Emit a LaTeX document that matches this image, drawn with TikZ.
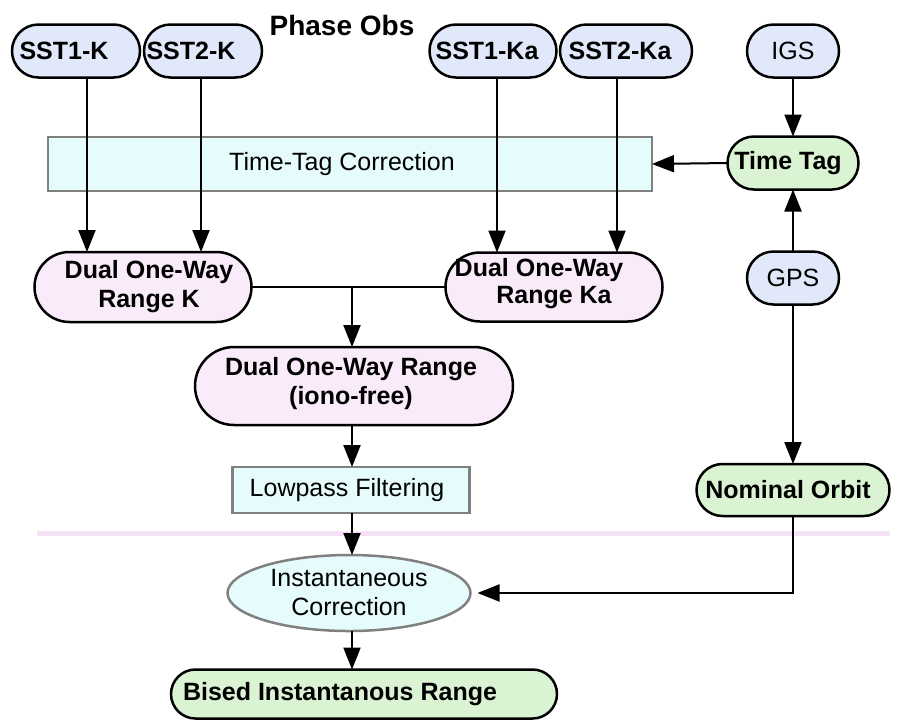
\documentclass[tikz,border=0pt]{standalone}
\usepackage{fontspec}
\setmainfont{Liberation Sans}
\usetikzlibrary{shapes.misc,shapes.geometric,arrows.meta}

\definecolor{blueF}{RGB}{224,232,250}
\definecolor{pinkF}{RGB}{249,235,250}
\definecolor{greenF}{RGB}{218,243,210}
\definecolor{cyanF}{RGB}{230,252,252}
\definecolor{grayB}{RGB}{128,128,128}
\definecolor{sepC}{RGB}{246,226,246}

\begin{document}
\begin{tikzpicture}[x=1pt,y=-1pt,
  base/.style={inner sep=0pt, outer sep=0pt, line width=2.5pt,
    font=\fontsize{25}{29}\selectfont, align=center},
  pill/.style={base, rounded rectangle, draw=black},
  bluepill/.style={pill, fill=blueF},
  pinkpill/.style={pill, fill=pinkF},
  greenpill/.style={pill, fill=greenF},
  procbox/.style={base, rectangle, draw=grayB, fill=cyanF},
  procoval/.style={base, ellipse, draw=grayB, fill=cyanF},
  lbl/.style={font=\fontsize{25}{29}\selectfont\bfseries, align=center, inner sep=0pt},
  rlbl/.style={font=\fontsize{25}{29}\selectfont, align=center, inner sep=0pt},
  link/.style={line width=2pt},
  arr/.style={line width=2pt, -{Triangle[length=22pt,width=17pt]}}]

\useasboundingbox (0,0) rectangle (901,721);

% title
\node[lbl, font=\fontsize{28}{32}\selectfont\bfseries] (title) at (342,25) {Phase Obs};

% phase observations
\node[bluepill, minimum width=128pt, minimum height=53pt,
  label={[lbl,xshift=-12pt]center:SST1-K}] (s1k) at (76,51) {};
\node[bluepill, minimum width=118pt, minimum height=53pt,
  label={[lbl,xshift=-12pt]center:SST2-K}] (s2k) at (203,51) {};
\node[bluepill, minimum width=127pt, minimum height=53pt,
  label={[lbl,xshift=-6pt]center:SST1-Ka}] (s1ka) at (493,51) {};
\node[bluepill, minimum width=132pt, minimum height=53pt,
  label={[lbl,xshift=-6pt]center:SST2-Ka}] (s2ka) at (626,51) {};
\node[bluepill, minimum width=92pt, minimum height=53pt,
  label={[rlbl]center:IGS}] (igs) at (793,51) {};

% time tagging
\node[procbox, minimum width=604pt, minimum height=54pt,
  label={[rlbl,xshift=-8pt]center:Time-Tag Correction}] (ttc) at (350,164) {};
\node[greenpill, minimum width=131pt, minimum height=53pt,
  label={[lbl,xshift=-5pt]center:Time Tag}] (tt) at (793,163) {};

% ranges
\node[pinkpill, minimum width=217pt, minimum height=70pt,
  label={[lbl,xshift=6pt]center:{Dual One-Way\\Range K}}] (dk) at (143,287) {};
\node[pinkpill, minimum width=217pt, minimum height=69pt,
  label={[lbl,xshift=-15pt,yshift=17pt]center:Dual One-Way},
  label={[lbl,yshift=-11pt]center:Range Ka}] (dka) at (554,287) {};
\node[bluepill, minimum width=92pt, minimum height=53pt,
  label={[rlbl]center:GPS}] (gps) at (793,278) {};
\node[pinkpill, minimum width=318pt, minimum height=78pt,
  label={[lbl,xshift=-3pt,yshift=2pt]center:{Dual One-Way Range\\(iono-free)}}] (dif) at (354,386) {};

% filtering and orbit
\node[procbox, minimum width=237pt, minimum height=46pt,
  label={[rlbl,xshift=-4pt]center:Lowpass Filtering}] (lp) at (351,490) {};
\node[greenpill, minimum width=193pt, minimum height=52pt,
  label={[lbl,xshift=-5pt]center:Nominal Orbit}] (no) at (793,490) {};

% separator
\draw[line width=5pt, sepC] (37,533) -- (890,533);

% correction and result
\node[procoval, minimum width=243pt, minimum height=76pt,
  label={[rlbl]center:{Instantaneous\\Correction}}] (ic) at (349,593) {};
\node[greenpill, minimum width=386pt, minimum height=49pt,
  label={[lbl,xshift=-24pt]center:Bised Instantanous Range}] (bir) at (364,694) {};

% connectors
\coordinate (xa) at (87,0);
\coordinate (xb) at (201,0);
\coordinate (xc) at (497,0);
\coordinate (xd) at (617,0);
\coordinate (xm) at (352,0);
\draw[arr] (s1k.south -| xa) -- (dk.north -| xa);
\draw[arr] (s2k.south -| xb) -- (dk.north -| xb);
\draw[arr] (s1ka.south -| xc) -- (dka.north -| xc);
\draw[arr] (s2ka.south -| xd) -- (dka.north -| xd);

\draw[arr] (igs.south) -- (tt.north);
\draw[arr] (tt.west) -- (ttc.east);
\draw[arr] (gps.north) -- (tt.south);
\draw[arr] (gps.south) -- (no.north);

\coordinate (j) at (dk.east -| xm);
\draw[link] (dk.east) -- (dka.west);
\draw[arr] (j) -- (dif.north -| xm);
\draw[arr] (dif.south -| xm) -- (lp.north -| xm);
\draw[arr] (lp.south -| xm) -- (ic.north -| xm);
\draw[arr] (ic.south -| xm) -- (bir.north -| xm);
\draw[arr, shorten >=7pt] (no.south) |- (ic.east);
\end{tikzpicture}
\end{document}
